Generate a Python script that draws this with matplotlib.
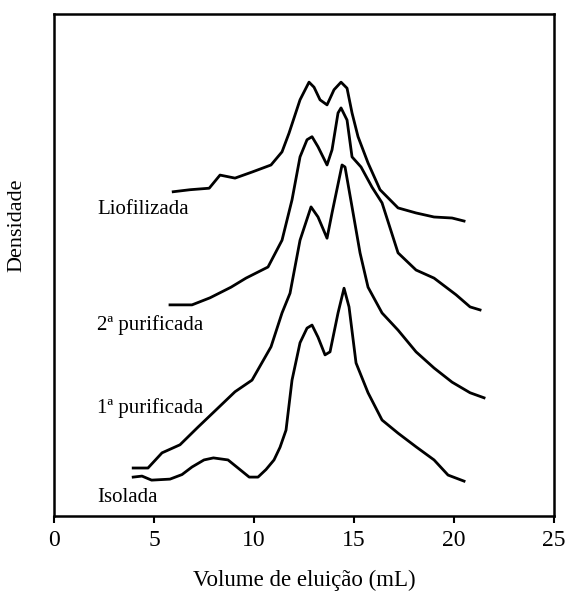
import numpy as np
import matplotlib.pyplot as plt

plt.rcParams['font.family'] = ['Liberation Serif', 'DejaVu Serif']

# Elution profiles (x in mL, y in arbitrary density units)
isolada_x = [3.96, 4.4, 4.88, 5.8, 6.4, 6.9, 7.5, 7.97, 8.7, 9.2, 9.76, 10.2,
             10.6, 11.0, 11.3, 11.6, 11.9, 12.3, 12.65, 12.9, 13.2, 13.55,
             13.8, 14.2, 14.5, 14.75, 15.1, 15.7, 16.4, 17.2, 18.1, 19.0,
             19.7, 20.5]
isolada_y = [8.1, 8.3, 7.5, 7.7, 8.6, 10.1, 11.5, 11.9, 11.5, 9.9, 8.1, 8.1,
             9.6, 11.5, 14.0, 17.4, 27.3, 34.7, 37.6, 38.2, 35.8, 32.3,
             32.9, 40.6, 45.5, 41.8, 30.7, 24.8, 19.4, 16.8, 14.1, 11.5,
             8.5, 7.3]

prim_x = [3.96, 4.7, 5.4, 6.3, 7.2, 8.1, 9.05, 9.9, 10.85, 11.4, 11.8,
          12.3, 12.85, 13.2, 13.65, 13.9, 14.4, 14.55, 14.9, 15.3, 15.7,
          16.4, 17.2, 18.1, 19.0, 19.9, 20.8, 21.5]
prim_y = [9.9, 9.9, 12.9, 14.5, 18.0, 21.4, 25.0, 27.3, 33.9, 40.6, 44.5,
          55.0, 61.6, 59.6, 55.4, 60.4, 69.9, 69.5, 61.6, 52.5, 45.7,
          40.6, 37.2, 32.9, 29.7, 26.9, 24.8, 23.8]

seg_x = [5.8, 6.9, 7.8, 8.85, 9.6, 10.7, 11.4, 11.9, 12.3, 12.65, 12.9,
         13.2, 13.65, 13.9, 14.2, 14.35, 14.65, 14.9, 15.35, 15.9, 16.4,
         17.2, 18.1, 19.0, 20.1, 20.8, 21.3]
seg_y = [42.2, 42.2, 43.6, 45.7, 47.5, 49.7, 55.0, 63.0, 71.5, 74.9, 75.5,
         73.5, 69.9, 72.9, 80.2, 81.2, 78.8, 71.5, 69.5, 65.5, 62.4,
         52.5, 49.1, 47.5, 44.2, 41.8, 41.2]

liof_x = [5.96, 6.8, 7.76, 8.3, 9.05, 9.9, 10.85, 11.4, 11.75, 12.3, 12.75,
          13.0, 13.3, 13.65, 14.0, 14.35, 14.65, 14.9, 15.2, 15.7, 16.3,
          17.2, 18.1, 19.0, 19.9, 20.5]
liof_y = [64.6, 65.0, 65.3, 67.9, 67.3, 68.5, 69.9, 72.5, 76.2, 82.8, 86.3,
          85.3, 82.8, 81.8, 84.8, 86.3, 85.1, 80.2, 75.5, 70.3, 65.0,
          61.4, 60.4, 59.6, 59.4, 58.8]

labels = ['Liofilizada', '2ª purificada', '1ª purificada', 'Isolada']
label_y = [61.0, 38.2, 21.8, 4.0]

fig = plt.figure(figsize=(5.67, 5.92), dpi=100)
ax = fig.add_axes([0.0952, 0.1284, 0.882, 0.848])

for xs, ys in [(isolada_x, isolada_y), (prim_x, prim_y),
               (seg_x, seg_y), (liof_x, liof_y)]:
    ax.plot(xs, ys, color='black', lw=2.0)

for name, yy in zip(labels, label_y):
    ax.text(2.15, yy, name, fontsize=15, va='center', ha='left')

ax.set_xlim(0, 25)
ax.set_ylim(0.4, 99.8)
ax.set_xticks([0, 5, 10, 15, 20, 25])
ax.set_yticks([])
ax.tick_params(axis='x', direction='out', length=5, width=1.5,
               labelsize=17, pad=5)
for s in ax.spines.values():
    s.set_linewidth(1.8)

ax.set_xlabel('Volume de eluição (mL)', fontsize=16.5, va='top')
ax.xaxis.set_label_coords(0.5, -0.108)
ax.set_ylabel('Densidade', fontsize=16)
ax.yaxis.set_label_coords(-0.056, 0.58)

fig.savefig('out.png', dpi=100)
